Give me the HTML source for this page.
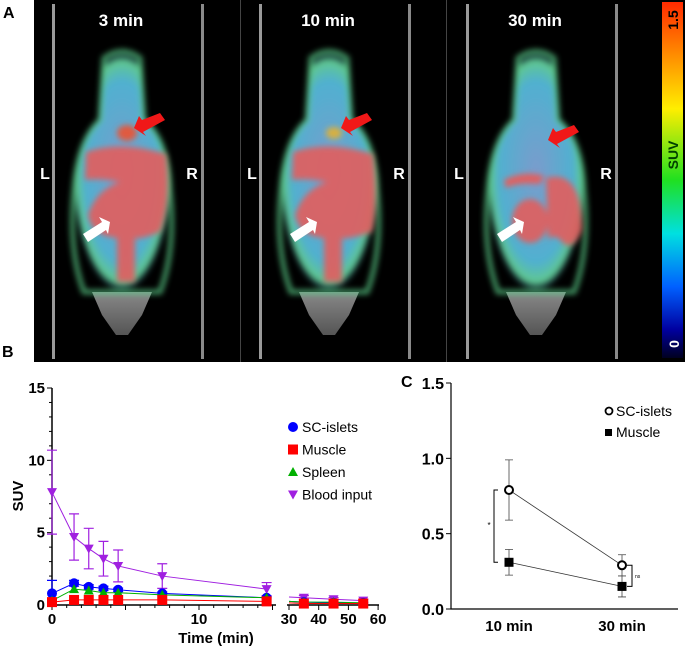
<!DOCTYPE html>
<html><head><meta charset="utf-8"><style>
html,body{margin:0;padding:0;background:#fff;width:685px;height:651px;overflow:hidden}
svg{display:block;font-family:"Liberation Sans",Arial,sans-serif}
</style></head><body>
<svg id="fig" width="685" height="651" viewBox="0 0 685 651">
<defs>
<filter id="blur3"><feGaussianBlur stdDeviation="3"/></filter>
<linearGradient id="cbar" x1="0" y1="0" x2="0" y2="1">
<stop offset="0" stop-color="#ff2a00"/><stop offset="0.12" stop-color="#ff7a00"/>
<stop offset="0.3" stop-color="#ffee00"/><stop offset="0.5" stop-color="#20e020"/>
<stop offset="0.65" stop-color="#00e0e0"/><stop offset="0.8" stop-color="#0060ff"/>
<stop offset="0.92" stop-color="#0000a0"/><stop offset="1" stop-color="#000020"/>
</linearGradient>
<radialGradient id="bodyG" cx="0.5" cy="0.5" r="0.5">
<stop offset="0" stop-color="#7a9ccc"/><stop offset="0.75" stop-color="#50b0d0"/><stop offset="0.92" stop-color="#60c890"/><stop offset="1" stop-color="#2a6a8a" stop-opacity="0"/>
</radialGradient>
<linearGradient id="tailG" x1="0" y1="0" x2="0" y2="1"><stop offset="0" stop-color="#888"/><stop offset="1" stop-color="#555"/></linearGradient>
<g id="mouse">
<path d="M92,292 L152,292 L142,315 L128,335 L116,335 L102,315 Z" fill="url(#tailG)"/>
<g filter="url(#blur3)">
<path d="M104,58 Q122,45 140,58 L144,120 Q168,140 170,190 Q176,250 160,292 L84,292 Q68,250 74,190 Q78,140 100,120 Z" fill="url(#bodyG)"/>
<path d="M104,58 Q122,45 140,58 L144,120 Q168,140 170,190 Q176,250 160,292 L84,292 Q68,250 74,190 Q78,140 100,120 Z" fill="none" stroke="#5cd08a" stroke-width="5" opacity="0.7"/>
</g>
</g>
</defs>

<text x="3" y="18" font-size="16" font-weight="bold">A</text>
<rect x="34" y="0" width="626" height="362" fill="#000"/>

<g>
<rect x="52" y="4" width="3" height="355" fill="#9a9a9a"/><rect x="201" y="4" width="3" height="355" fill="#8a8a8a"/>
<use href="#mouse"/>
<g filter="url(#blur3)"><path d="M86,152 Q120,140 166,154 Q172,200 160,232 Q140,240 135,238 L135,282 L117,282 L117,238 Q92,236 88,215 Q96,190 120,182 Q100,178 85,180 Z" fill="#e06060" opacity="0.92"/>
<ellipse cx="127" cy="133" rx="10" ry="8" fill="#e05a40"/></g>
<text x="121" y="26" font-size="17" font-weight="bold" fill="#fff" text-anchor="middle">3 min</text>
<text x="45" y="179" font-size="16" font-weight="bold" fill="#fff" text-anchor="middle">L</text>
<text x="192" y="179" font-size="16" font-weight="bold" fill="#fff" text-anchor="middle">R</text>
<path d="M160,113 L165,120 L143,132 L146,136 L134,128 L139,116 L142,120 Z" fill="#f01818"/>
<path d="M88,242 L83,234 L102,222 L99,217 L110,222 L108,234 L106,230 Z" fill="#fff"/>
</g>
<g transform="translate(207,0)">
<rect x="52" y="4" width="3" height="355" fill="#9a9a9a"/><rect x="201" y="4" width="3" height="355" fill="#8a8a8a"/>
<use href="#mouse"/>
<g filter="url(#blur3)"><path d="M86,152 Q120,140 166,154 Q172,200 165,232 Q140,240 135,238 L135,282 L117,282 L117,238 Q92,236 88,215 Q96,190 120,182 Q100,178 85,180 Z" fill="#e06060" opacity="0.92"/>
<ellipse cx="127" cy="133" rx="8" ry="6" fill="#d8b040"/></g>
<text x="121" y="26" font-size="17" font-weight="bold" fill="#fff" text-anchor="middle">10 min</text>
<text x="45" y="179" font-size="16" font-weight="bold" fill="#fff" text-anchor="middle">L</text>
<text x="192" y="179" font-size="16" font-weight="bold" fill="#fff" text-anchor="middle">R</text>
<path d="M160,113 L165,120 L143,132 L146,136 L134,128 L139,116 L142,120 Z" fill="#f01818"/>
<path d="M88,242 L83,234 L102,222 L99,217 L110,222 L108,234 L106,230 Z" fill="#fff"/>
</g>
<g transform="translate(414,0)">
<rect x="52" y="4" width="3" height="355" fill="#9a9a9a"/><rect x="201" y="4" width="3" height="355" fill="#8a8a8a"/>
<use href="#mouse"/>
<g filter="url(#blur3)"><path d="M132,178 Q168,168 168,230 Q160,250 150,244 Q140,232 134,240 Z" fill="#e06060" opacity="0.92"/>
<ellipse cx="116" cy="221" rx="18" ry="22" fill="#e06060" opacity="0.92"/>
<path d="M90,180 Q110,170 130,176 L126,184 Q104,182 92,188 Z" fill="#e06060"/></g>
<text x="121" y="26" font-size="17" font-weight="bold" fill="#fff" text-anchor="middle">30 min</text>
<text x="45" y="179" font-size="16" font-weight="bold" fill="#fff" text-anchor="middle">L</text>
<text x="192" y="179" font-size="16" font-weight="bold" fill="#fff" text-anchor="middle">R</text>
<path d="M160,125 L165,132 L143,144 L146,148 L134,140 L139,128 L142,132 Z" fill="#f01818"/>
<path d="M88,242 L83,234 L102,222 L99,217 L110,222 L108,234 L106,230 Z" fill="#fff"/>
</g>
<rect x="240" y="0" width="1" height="362" fill="#444"/>
<rect x="446" y="0" width="1" height="362" fill="#444"/>
<g>
<rect x="660" y="0" width="25" height="362" fill="#000"/>
<rect x="662" y="2" width="21" height="356" fill="url(#cbar)"/>
<text transform="translate(678,20) rotate(-90)" font-size="14" font-weight="bold" fill="#000" text-anchor="middle">1.5</text>
<text transform="translate(678,155) rotate(-90)" font-size="14" font-weight="bold" fill="#004000" text-anchor="middle">SUV</text>
<text transform="translate(679,344) rotate(-90)" font-size="14" font-weight="bold" fill="#fff" text-anchor="middle">0</text>
</g>

<text x="2" y="357" font-size="16" font-weight="bold">B</text>
<g id="chartB"></g>
<text x="401" y="387" font-size="16" font-weight="bold">C</text>
<g id="chartC"></g>
</svg>
<script>
const timesEarly = [0, 1.5, 2.5, 3.5, 4.5, 7.5, 14.6];
const timesLate = [35, 45, 55];
const bloodEarly = [7.8, 4.7, 3.9, 3.2, 2.7, 2.0, 1.1];
const bloodLate = [0.5, 0.4, 0.3];
const bloodErrEarly = [2.9, 1.6, 1.4, 1.2, 1.1, 0.85, 0.45];
const bloodErrLate = [0.15, 0.12, 0.1];
const isletsEarly = [0.8, 1.5, 1.25, 1.15, 1.05, 0.8, 0.5];
const isletsLate = [0.2, 0.15, 0.15];
const isletsErrEarly = [0.9, 0.2, 0.15, 0.15, 0.12, 0.1, 0.08];
const spleenEarly = [0.3, 1.1, 1.0, 0.85, 0.85, 0.7, 0.5];
const spleenLate = [0.2, 0.2, 0.15];
const muscleEarly = [0.2, 0.35, 0.35, 0.35, 0.35, 0.35, 0.25];
const muscleLate = [0.1, 0.1, 0.1];
const yTicksB = [0, 5, 10, 15];
const xTicksEarly = [0, 10];
const xTicksLate = [30, 40, 50, 60];

const cCategories = ["10 min", "30 min"];
const cIslets = [0.79, 0.29];
const cIsletsErr = [0.2, 0.07];
const cMuscle = [0.31, 0.15];
const cMuscleErr = [0.085, 0.07];
const yTicksC = [0, 0.5, 1.0, 1.5];

const NS = "http://www.w3.org/2000/svg";
function mk(parent, tag, attrs, text) {
  const e = document.createElementNS(NS, tag);
  for (const k in attrs) e.setAttribute(k, attrs[k]);
  if (text !== undefined) e.textContent = text;
  parent.appendChild(e);
  return e;
}
const gB = document.getElementById("chartB");
const yB = v => 605 - v * (217 / 15);
const xE = t => 52 + t * 14.7;
const xL = t => 289 + (t - 30) * 2.97;
let ax = mk(gB, "path", {d: "M52,388 L52,605 L276,605 M287,605 L379,605", stroke: "#000", "stroke-width": 1.5, fill: "none"});


for (let v = 0; v <= 15; v++) {
  mk(gB, "line", {x1: 52, x2: yTicksB.includes(v) ? 47 : 49, y1: yB(v), y2: yB(v), stroke: "#000", "stroke-width": 1});
}
yTicksB.forEach(v => {
  const t = mk(gB, "text", {x: 45, y: yB(v) + 5, "font-size": 15, "font-weight": "bold", "text-anchor": "end"}, v);
  
  
});
for (let t = 0; t <= 15; t++) mk(gB, "line", {x1: xE(t), x2: xE(t), y1: 605, y2: t % 5 === 0 ? 610 : 608, stroke: "#000"});
xTicksEarly.forEach(v => {
  const t = mk(gB, "text", {x: xE(v), y: 624, "font-size": 15, "font-weight": "bold", "text-anchor": "middle"}, v);
  
  
});
xTicksLate.forEach(v => {
  mk(gB, "line", {x1: xL(v), x2: xL(v), y1: 605, y2: 610, stroke: "#000"});
  const t = mk(gB, "text", {x: xL(v), y: 624, "font-size": 15, "font-weight": "bold", "text-anchor": "middle"}, v);
  
  
});
let lab = mk(gB, "text", {x: 216, y: 643, "font-size": 15, "font-weight": "bold", "text-anchor": "middle"}, "Time (min)");


lab = mk(gB, "text", {transform: "translate(23,496) rotate(-90)", "font-size": 15, "font-weight": "bold", "text-anchor": "middle"}, "SUV");



function marker(g, type, x, y, color) {
  let m;
  if (type === "circle") m = mk(g, "circle", {cx: x, cy: y, r: 5, fill: color});
  else if (type === "square") m = mk(g, "rect", {x: x - 5, y: y - 5, width: 10, height: 10, fill: color});
  else if (type === "tri") m = mk(g, "path", {d: `M${x},${y-5} L${x+5},${y+4} L${x-5},${y+4} Z`, fill: color});
  else m = mk(g, "path", {d: `M${x},${y+5} L${x+5},${y-4} L${x-5},${y-4} Z`, fill: color});
  return m;
}
function series(name, early, late, errE, errL, color, type) {
  const g = mk(gB, "g", {});
  
  
  const pe = early.map((v, i) => `${xE(timesEarly[i])},${yB(v)}`).join(" L");
  mk(g, "path", {d: "M" + pe, stroke: color, fill: "none", "stroke-width": 1});
  const pl = late.map((v, i) => `${xL(timesLate[i])},${yB(v)}`).join(" L");
  mk(g, "path", {d: `M289,${yB(late[0] + 0.05)} L` + pl, stroke: color, fill: "none", "stroke-width": 1});
  if (errE) early.forEach((v, i) => {
    const x = xE(timesEarly[i]);
    mk(g, "path", {d: `M${x},${yB(v - errE[i])} L${x},${yB(v + errE[i])} M${x-5},${yB(v + errE[i])} L${x+5},${yB(v + errE[i])} M${x-5},${yB(v - errE[i])} L${x+5},${yB(v - errE[i])}`, stroke: color, "stroke-width": 1.2});
  });
  if (errL) late.forEach((v, i) => {
    const x = xL(timesLate[i]);
    mk(g, "path", {d: `M${x},${yB(v - errL[i])} L${x},${yB(v + errL[i])} M${x-5},${yB(v + errL[i])} L${x+5},${yB(v + errL[i])}`, stroke: color, "stroke-width": 1.2});
  });
  early.forEach((v, i) => {
    const m = marker(g, type, xE(timesEarly[i]), yB(v), color);
    
    
  });
  late.forEach((v, i) => {
    const m = marker(g, type, xL(timesLate[i]), yB(v), color);
    
    
  });
}
series("blood-input-series", bloodEarly, bloodLate, bloodErrEarly, bloodErrLate, "#a020e0", "invtri");
series("sc-islets-series", isletsEarly, isletsLate, isletsErrEarly, null, "#0000ff", "circle");
series("spleen-series", spleenEarly, spleenLate, null, null, "#00b000", "tri");
series("muscle-series", muscleEarly, muscleLate, null, null, "#ff0000", "square");

const legB = [["SC-islets", "#0000ff", "circle"], ["Muscle", "#ff0000", "square"], ["Spleen", "#00b000", "tri"], ["Blood input", "#a020e0", "invtri"]];
legB.forEach((l, i) => {
  const g = mk(gB, "g", {});
  
  
  marker(g, l[2], 293, 427 + i * 22.5, l[1]);
  mk(g, "text", {x: 302, y: 432 + i * 22.5, "font-size": 14}, l[0]);
});

const gC = document.getElementById("chartC");
const yC = v => 609 - v * (226 / 1.5);
const xC = i => 509 + i * 113;
ax = mk(gC, "path", {d: "M451,383 L451,609 L678,609", stroke: "#000", "stroke-width": 1.2, fill: "none"});


yTicksC.forEach(v => {
  mk(gC, "line", {x1: 446, x2: 451, y1: yC(v), y2: yC(v), stroke: "#000"});
  const t = mk(gC, "text", {x: 444, y: yC(v) + 6, "font-size": 16, "font-weight": "bold", "text-anchor": "end"}, v.toFixed(1));
  
  
});
cCategories.forEach((c, i) => {
  const t = mk(gC, "text", {x: xC(i), y: 631, "font-size": 15, "font-weight": "bold", "text-anchor": "middle"}, c);
  
  
});
function cSeries(name, vals, errs, open) {
  const g = mk(gC, "g", {});
  
  
  mk(g, "path", {d: "M" + vals.map((v, i) => `${xC(i)},${yC(v)}`).join(" L"), stroke: "#333", fill: "none", "stroke-width": 0.8});
  vals.forEach((v, i) => {
    const x = xC(i);
    mk(g, "path", {d: `M${x},${yC(v - errs[i])} L${x},${yC(v + errs[i])} M${x-4},${yC(v + errs[i])} L${x+4},${yC(v + errs[i])} M${x-4},${yC(v - errs[i])} L${x+4},${yC(v - errs[i])}`, stroke: "#444", "stroke-width": 0.8});
    let m;
    if (open) m = mk(g, "circle", {cx: x, cy: yC(v), r: 4, fill: "#fff", stroke: "#000", "stroke-width": 2});
    else m = mk(g, "rect", {x: x - 4.5, y: yC(v) - 4.5, width: 9, height: 9, fill: "#000"});
    
    
  });
}
cSeries("sc-islets-c-series", cIslets, cIsletsErr, true);
cSeries("muscle-c-series", cMuscle, cMuscleErr, false);
let br = mk(gC, "path", {d: `M498,${yC(cIslets[0])} L494,${yC(cIslets[0])} L494,${yC(cMuscle[0])} L498,${yC(cMuscle[0])}`, stroke: "#000", fill: "none", "stroke-width": 1});


mk(gC, "text", {x: 489, y: yC((cIslets[0] + cMuscle[0]) / 2) + 2, "font-size": 8, "text-anchor": "middle"}, "*");
br = mk(gC, "path", {d: `M627,${yC(cIslets[1])} L632,${yC(cIslets[1])} L632,${yC(cMuscle[1])} L627,${yC(cMuscle[1])}`, stroke: "#000", fill: "none", "stroke-width": 1});


mk(gC, "text", {x: 635, y: yC((cIslets[1] + cMuscle[1]) / 2) + 2, "font-size": 5}, "ns");
let lg = mk(gC, "g", {});


mk(lg, "circle", {cx: 609, cy: 411, r: 3.5, fill: "#fff", stroke: "#000", "stroke-width": 1.8});
mk(lg, "text", {x: 616, y: 416, "font-size": 14}, "SC-islets");
lg = mk(gC, "g", {});


mk(lg, "rect", {x: 605, y: 429, width: 7, height: 7, fill: "#000"});
mk(lg, "text", {x: 616, y: 437, "font-size": 14}, "Muscle");
</script>
</body></html>
